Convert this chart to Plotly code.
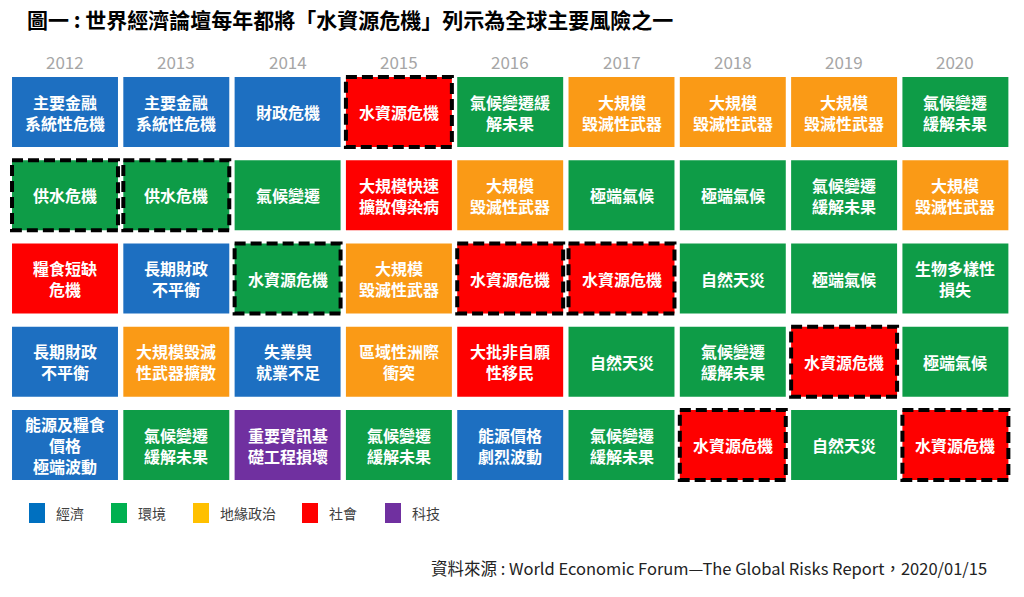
import plotly.graph_objects as go

# years across the top, five ranked risks per year (top = rank 1)
years = ["2012", "2013", "2014", "2015", "2016", "2017", "2018", "2019", "2020"]

risks = [
    ["主要金融<br>系統性危機", "供水危機", "糧食短缺<br>危機", "長期財政<br>不平衡", "能源及糧食<br>價格<br>極端波動"],
    ["主要金融<br>系統性危機", "供水危機", "長期財政<br>不平衡", "大規模毀滅<br>性武器擴散", "氣候變遷<br>緩解未果"],
    ["財政危機", "氣候變遷", "水資源危機", "失業與<br>就業不足", "重要資訊基<br>礎工程損壞"],
    ["水資源危機", "大規模快速<br>擴散傳染病", "大規模<br>毀滅性武器", "區域性洲際<br>衝突", "氣候變遷<br>緩解未果"],
    ["氣候變遷緩<br>解未果", "大規模<br>毀滅性武器", "水資源危機", "大批非自願<br>性移民", "能源價格<br>劇烈波動"],
    ["大規模<br>毀滅性武器", "極端氣候", "水資源危機", "自然天災", "氣候變遷<br>緩解未果"],
    ["大規模<br>毀滅性武器", "極端氣候", "自然天災", "氣候變遷<br>緩解未果", "水資源危機"],
    ["大規模<br>毀滅性武器", "氣候變遷<br>緩解未果", "極端氣候", "水資源危機", "自然天災"],
    ["氣候變遷<br>緩解未果", "大規模<br>毀滅性武器", "生物多樣性<br>損失", "極端氣候", "水資源危機"],
]

# category of each cell: eco / env / geo / soc / tech
cats = [
    ["eco", "env", "soc", "eco", "eco"],
    ["eco", "env", "eco", "geo", "env"],
    ["eco", "env", "env", "eco", "tech"],
    ["soc", "soc", "geo", "geo", "env"],
    ["env", "geo", "soc", "soc", "eco"],
    ["geo", "env", "soc", "env", "env"],
    ["geo", "env", "env", "env", "soc"],
    ["geo", "env", "env", "soc", "env"],
    ["env", "geo", "env", "env", "soc"],
]

# water crisis cells get the dashed outline
water = ["供水危機", "水資源危機"]

cat_keys = ["eco", "env", "geo", "soc", "tech"]
cat_names = ["經濟", "環境", "地緣政治", "社會", "科技"]
cell_colors = {"eco": "#1D6FC1", "env": "#0E9C47", "geo": "#FA9A16", "soc": "#FE0000", "tech": "#7030A0"}
legend_colors = {"eco": "#0070C0", "env": "#00B050", "geo": "#FFC000", "soc": "#FF0000", "tech": "#7030A0"}

# page has an 8px body margin, so the figure is a bit smaller and offset
OFF = 8
W, H = 1024 - OFF, 597 - OFF


def px(x):
    return (x - OFF) / W


def py(y):
    return 1 - (y - OFF) / H


hw, hh = 0.476, 0.42

fig = go.Figure()
shapes = []
annotations = []
for i, yr in enumerate(years):
    for j in range(5):
        shapes.append(dict(type="rect", xref="x", yref="y",
                           x0=i - hw, x1=i + hw, y0=j - hh, y1=j + hh,
                           fillcolor=cell_colors[cats[i][j]], line=dict(width=0), layer="below"))
        if risks[i][j] in water:
            shapes.append(dict(type="rect", xref="x", yref="y",
                               x0=i - hw, x1=i + hw, y0=j - hh, y1=j + hh,
                               fillcolor="rgba(0,0,0,0)",
                               line=dict(color="black", width=4, dash="11px,5px")))
        annotations.append(dict(text=risks[i][j], x=i, y=j, xref="x", yref="y",
                                showarrow=False, borderpad=0,
                                font=dict(family="Noto Sans CJK TC", size=16, color="white", weight="bold")))

# year labels
for i, yr in enumerate(years):
    annotations.append(dict(text=yr, x=i, y=-0.61, xref="x", yref="y", showarrow=False,
                            font=dict(family="Noto Sans CJK TC", size=17, color="#A6A6A6")))

annotations += [
    dict(text="圖一 : 世界經濟論壇每年都將「水資源危機」列示為全球主要風險之一",
         xref="paper", yref="paper", x=px(26), y=py(19), xanchor="left", yanchor="middle",
         showarrow=False, borderpad=0,
         font=dict(family="Noto Sans CJK TC", size=21, color="black", weight="bold")),
    dict(text="資料來源 : World Economic Forum—The Global Risks Report，2020/01/15",
         xref="paper", yref="paper", x=px(989), y=py(568), xanchor="right", yanchor="middle",
         showarrow=False, font=dict(family="Noto Sans CJK TC", size=16.5, color="#222222")),
]

# legend drawn by hand to keep the reference spacing
leg_x = [29, 111, 193, 302, 385]
for k, key in enumerate(cat_keys):
    x0 = leg_x[k]
    shapes.append(dict(type="rect", xref="paper", yref="paper",
                       x0=px(x0), x1=px(x0 + 16), y0=py(523), y1=py(503),
                       fillcolor=legend_colors[key], line=dict(width=0)))
    annotations.append(dict(text=cat_names[k], xref="paper", yref="paper",
                            x=px(x0 + 25), y=py(513), xanchor="left", yanchor="middle",
                            showarrow=False, font=dict(family="Noto Sans CJK TC", size=14, color="#404040")))

# cell centres in reference pixels
x_c0, x_pitch = 65 - OFF, 111.3
y_c0, y_pitch = 112 - OFF, 83.25
fig.update_layout(
    width=W, height=H,
    margin=dict(l=0, r=0, t=0, b=0),
    paper_bgcolor="white", plot_bgcolor="white",
    shapes=shapes, annotations=annotations,
    xaxis=dict(range=[-x_c0 / x_pitch, (W - x_c0) / x_pitch], visible=False, fixedrange=True),
    yaxis=dict(range=[(H - y_c0) / y_pitch, -y_c0 / y_pitch], visible=False, fixedrange=True),
    showlegend=False,
)

fig.write_html("out.html")
